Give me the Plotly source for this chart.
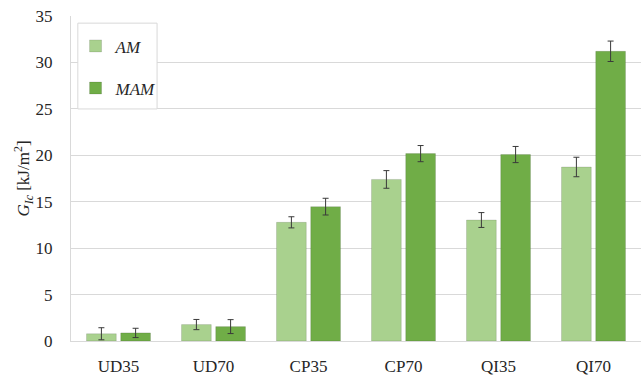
import plotly.graph_objects as go

categories = ["UD35", "UD70", "CP35", "CP70", "QI35", "QI70"]
am_values = [0.78, 1.77, 12.78, 17.4, 13.03, 18.74]
am_errors = [0.65, 0.55, 0.6, 0.95, 0.8, 1.05]
mam_values = [0.87, 1.55, 14.47, 20.18, 20.08, 31.2]
mam_errors = [0.5, 0.75, 0.9, 0.87, 0.87, 1.1]
y_ticks = [0, 5, 10, 15, 20, 25, 30, 35]

serif = "Liberation Serif"
grid = "#d9d9d9"
ink = "#262626"

fig = go.Figure()
fig.add_trace(go.Bar(
    x=categories, y=am_values, name="<i>AM</i>",
    marker=dict(color="#a9d18e", line=dict(color="rgba(0,0,0,0.12)", width=1)),
    error_y=dict(type="data", array=am_errors, color="#3a3a3a", thickness=1, width=3),
    legendgroup="am",
))
fig.add_trace(go.Bar(
    x=categories, y=mam_values, name="<i>MAM</i>",
    marker=dict(color="#70ad47", line=dict(color="rgba(0,0,0,0.12)", width=1)),
    error_y=dict(type="data", array=mam_errors, color="#3a3a3a", thickness=1, width=3),
    legendgroup="mam",
))

# legend frame
fig.add_shape(type="rect", xref="paper", yref="paper",
              x0=0.012, x1=0.151, y0=0.714, y1=0.978,
              line=dict(color=grid, width=1), fillcolor="white", layer="above")

fig.update_layout(
    width=641, height=376,
    margin=dict(l=71, r=0, t=16, b=35),
    paper_bgcolor="white", plot_bgcolor="white",
    barmode="group", bargap=0.28, bargroupgap=0.13,
    font=dict(family=serif, size=17, color=ink),
    showlegend=True,
    legend=dict(x=0.008, y=0.962, xanchor="left", yanchor="top",
                bgcolor="rgba(0,0,0,0)", borderwidth=0,
                traceorder="grouped", tracegroupgap=17, itemwidth=30,
                font=dict(family=serif, size=17, color=ink)),
    xaxis=dict(showgrid=False, showline=True, linecolor=grid, linewidth=1,
               ticks="", ticklabelstandoff=10, tickfont=dict(family=serif, size=17, color=ink)),
    yaxis=dict(range=[0, 35], tickvals=y_ticks, showgrid=True, gridcolor=grid,
               gridwidth=1, showline=True, linecolor=grid, linewidth=1,
               zeroline=False, ticks="", ticklabelstandoff=14,
               tickfont=dict(family=serif, size=17, color=ink),
               title=dict(text="<i>G<sub>Ic</sub></i> [kJ/m<sup>2</sup>]",
                          font=dict(family=serif, size=17, color=ink), standoff=1)),
)

fig.write_html("out.html")
